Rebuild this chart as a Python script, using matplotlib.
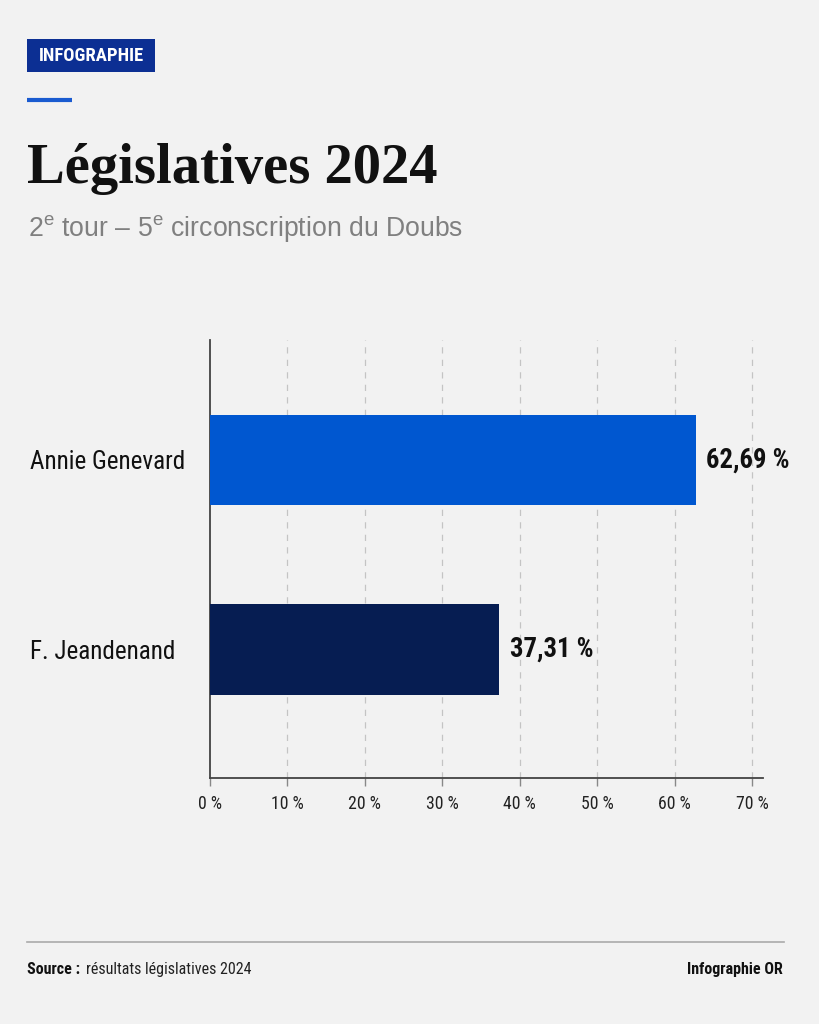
import matplotlib
matplotlib.use("Agg")
import matplotlib.pyplot as plt
from matplotlib.patches import Rectangle
from matplotlib.lines import Line2D
from matplotlib import font_manager as fm

# ---- data ----
candidates = ["F. Jeandenand", "Annie Genevard"]
values = [37.31, 62.69]
value_labels = ["37,31 %", "62,69 %"]
bar_colors = ["#061d52", "#0057d0"]
ticks = [0, 10, 20, 30, 40, 50, 60, 70]
tick_labels = ["0 %", "10 %", "20 %", "30 %", "40 %", "50 %", "60 %", "70 %"]

title = "Législatives 2024"
subtitle = r"2$^{\mathrm{e}}$ tour – 5$^{\mathrm{e}}$ circonscription du Doubs"
badge = "INFOGRAPHIE"
source_bold = "Source :"
source_text = "résultats législatives 2024"
credit = "Infographie OR"

names = {f.name for f in fm.fontManager.ttflist}
COND = "Roboto"
for cand in ["Roboto Condensed", "Liberation Sans Narrow", "Open Sans Condensed"]:
    if cand in names:
        COND = cand
        break
SANS = "Liberation Sans"
SERIF = "Liberation Serif"

plt.rcParams["mathtext.fontset"] = "custom"
plt.rcParams["mathtext.rm"] = SANS
plt.rcParams["mathtext.it"] = SANS

BG = "#f2f2f2"
fig = plt.figure(figsize=(8.19, 10.24), dpi=100, facecolor=BG)
W, H = 819, 1024
renderer = fig.canvas.get_renderer()


def fx(px):
    return px / W


def fy(py):
    return 1 - py / H


def fit(text, target_px, family, weight="normal", base=20.0):
    t = fig.text(0, 0, text, fontsize=base, family=family, fontweight=weight)
    w = t.get_window_extent(renderer).width
    t.remove()
    return base * target_px / w


# badge
fig.patches.append(Rectangle((fx(27), fy(72)), fx(155) - fx(27), fy(39) - fy(72),
                             transform=fig.transFigure, facecolor="#0c2f93",
                             edgecolor="none"))
fig.text(fx(91), fy(56), badge, ha="center", va="center", color="white",
         fontsize=fit(badge, 105, COND, "bold"), fontweight="bold", family=COND)
# accent line
fig.lines.append(Line2D([fx(27), fx(72)], [fy(100), fy(100)], transform=fig.transFigure,
                        color="#1a5bd0", lw=3, solid_capstyle="butt"))

fig.text(fx(27), fy(183), title, ha="left", va="baseline",
         fontsize=fit(title, 410, SERIF, "bold"),
         fontweight="bold", family=SERIF, color="#111111")
fig.text(fx(28), fy(236), subtitle, ha="left", va="baseline",
         fontsize=fit(subtitle, 434, SANS), family=SANS, color="#808080")

# axes
ax = fig.add_axes([fx(210), fy(778), fx(763) - fx(210), fy(340) - fy(778)])
ax.set_facecolor(BG)
ypos = [0, 1]
ax.barh(ypos, values, height=0.475, color=bar_colors, zorder=3)
ax.set_xlim(0, 71.4)
ax.set_ylim(-0.678, 1.633)
ax.set_xticks(ticks)
ax.set_xticklabels(tick_labels, family=COND, fontsize=fit("70 %", 33, COND),
                   color="#222222")
ax.set_yticks(ypos)
lab_size = fit("Annie Genevard", 155, COND)
ax.set_yticklabels(candidates, family=COND, fontsize=lab_size, color="#111111",
                   ha="left")
# left-aligned labels starting at x = 30 px (axis at 210 px)
ax.tick_params(axis="y", length=0, pad=(210 - 30) * 72 / 100)
ax.tick_params(axis="x", length=6, width=1, color="#888888", pad=6)
for t in ticks[1:]:
    ax.axvline(t, color="#c4c4c4", lw=0.9, ls=(0, (5, 5)), zorder=1)
for s in ["top", "right"]:
    ax.spines[s].set_visible(False)
ax.spines["left"].set_color("#444444")
ax.spines["bottom"].set_color("#444444")
ax.spines["left"].set_linewidth(1.3)
ax.spines["bottom"].set_linewidth(1.3)
val_size = fit("62,69 %", 84, COND, "bold")
for y, v, lab in zip(ypos, values, value_labels):
    ax.text(v + 1.4, y, lab, va="center", ha="left", fontsize=val_size,
            fontweight="bold", family=COND, color="#111111")

# footer
fig.lines.append(Line2D([fx(27), fx(784)], [fy(942), fy(942)], transform=fig.transFigure,
                        color="#aaaaaa", lw=1.2))
fsize = fit(source_text, 166, COND)
t1 = fig.text(fx(27), fy(974), source_bold, ha="left", va="baseline", fontsize=fsize,
              fontweight="bold", family=COND, color="#111111")
bb = t1.get_window_extent(renderer)
fig.text(bb.x1 / W + fx(6), fy(974), source_text, ha="left", va="baseline",
         fontsize=fsize, family=COND, color="#222222")
fig.text(fx(783), fy(974), credit, ha="right", va="baseline", fontsize=fsize,
         fontweight="bold", family=COND, color="#111111")

fig.savefig("out.png", dpi=100, facecolor=BG)
